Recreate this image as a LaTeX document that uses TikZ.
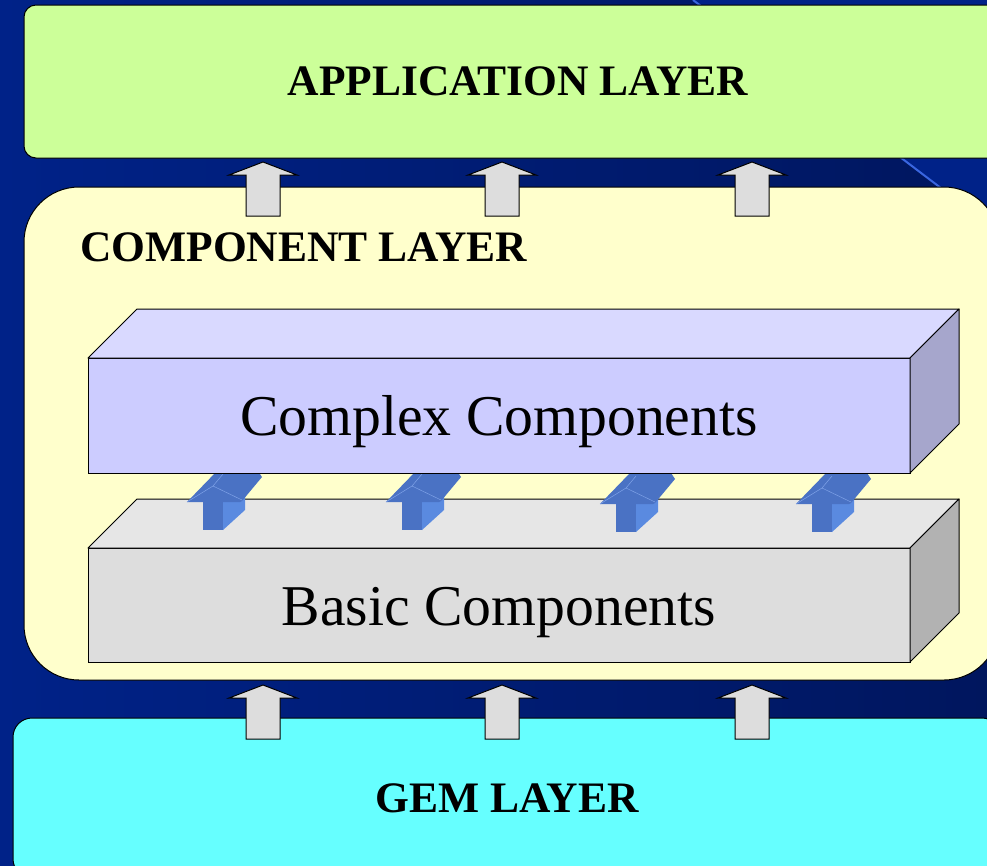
\documentclass[tikz,border=0pt]{standalone}
\usepackage{fontspec}
\setmainfont{Liberation Serif}
\usetikzlibrary{calc}
\definecolor{bgblue}{HTML}{002288}
\definecolor{bgnavy}{HTML}{00165E}
\definecolor{bgline}{HTML}{3A66E0}
\definecolor{appgreen}{HTML}{CCFF99}
\definecolor{compyellow}{HTML}{FFFFCC}
\definecolor{gemcyan}{HTML}{66FFFF}
\definecolor{cxfront}{HTML}{CCCCFF}
\definecolor{cxtop}{HTML}{D9D9FF}
\definecolor{cxside}{HTML}{A6A6CC}
\definecolor{bcfront}{HTML}{DDDDDD}
\definecolor{bctop}{HTML}{E6E6E6}
\definecolor{bcside}{HTML}{B2B2B2}
\definecolor{liftgrey}{HTML}{DDDDDD}
\definecolor{arrowfront}{HTML}{4A72C4}
\definecolor{arrowside}{HTML}{5A8AE0}
\definecolor{arrowlight}{HTML}{7FA2E8}
\tikzset{
    layer/.style={draw=black, line width=1pt, inner sep=0pt, outer sep=0pt, anchor=north west,
        font=\fontsize{43.5}{46}\selectfont\bfseries},
    layer label/.style={font=\fontsize{43.5}{46}\selectfont\bfseries, inner sep=0pt},
    slab/.style={draw=black, line width=1pt, inner sep=0pt, outer sep=0pt, anchor=north west,
        minimum width=822pt, text height=40pt, text depth=0pt, font=\fontsize{57.7}{60}\selectfont},
    face/.style={draw=black, line width=1pt, line join=round},
    pics/liftarrow/.style={code={
        \draw[fill=liftgrey, draw=black, line width=1pt, line join=miter]
            (0,0) -- (34,13) -- (17,13) -- (17,54) -- (-17,54) -- (-17,13) -- (-34,13) -- cycle;
    }},
    pics/stackarrow/.style={code={
        \fill[arrowside] (10,27) -- (10,55) -- (32,35) -- (32,20) -- cycle;
        \fill[arrowfront] (-26,27) -- (4,-4) -- (45,-4) -- (49,2) -- (29,26) -- (27,27) -- cycle;
        \fill[arrowfront] (-10,27) rectangle (10,55);
        \draw[arrowlight, line width=0.5pt] (-26,27) -- (0,11) -- (29,25) (0,11) -- (10,-1);
    }}
}
% top and side faces of a slab, from the front node
\newcommand{\slabfaces}[3]{%
    \draw[face, fill=#2] (#1.north west) -- ++(49,-49) -- ([shift={(49,-49)}]#1.north east) -- (#1.north east) -- cycle;
    \draw[face, fill=#3] (#1.north east) -- ++(49,-49) -- ([shift={(49,-49)}]#1.south east) -- (#1.south east) -- cycle;
}

\begin{document}
\begin{tikzpicture}[x=1pt, y=-1pt]
    \useasboundingbox (0,0) rectangle (987,865);
    \clip (0,0) rectangle (987,865);

    % background
    \shade[left color=bgblue, middle color=bgblue, right color=bgnavy] (0,0) rectangle (987,865);
    \fill[bgblue] (693,0) -- (987,0) -- (987,223) -- cycle;
    \draw[bgline, line width=2pt] (693,0) -- (987,223);

    % layers
    \node[layer, fill=appgreen, minimum width=988pt, minimum height=153pt, rounded corners=12pt]
        (app) at (24,5) {APPLICATION LAYER};
    \node[layer, fill=compyellow, minimum width=975pt, minimum height=493pt, rounded corners=55pt]
        (comp) at (24,187) {};
    \node[layer, fill=gemcyan, minimum width=988pt, minimum height=160pt, rounded corners=19pt]
        (gem) at (13,718) {GEM LAYER};
    \node[layer label, anchor=west] (comptext) at (80,247) {COMPONENT LAYER};

    % grey arrows between layers
    \foreach \x [count=\i] in {263,502,752} {
        \pic (up\i) at (\x,162) {liftarrow};
        \pic (low\i) at (\x,685) {liftarrow};
    }

    % basic components
    \node[slab, fill=bcfront, minimum height=114pt] (basic) at (88,548) {Basic Components};
    \slabfaces{basic}{bctop}{bcside}

    % blue arrows from basic to complex
    \foreach \x/\y [count=\i] in {213/475, 412/475, 626/477, 822/477}
        \pic (lift\i) at (\x,\y) {stackarrow};

    % complex components
    \node[slab, fill=cxfront, minimum height=115pt] (complex) at (88,358) {Complex Components};
    \slabfaces{complex}{cxtop}{cxside}
\end{tikzpicture}
\end{document}
